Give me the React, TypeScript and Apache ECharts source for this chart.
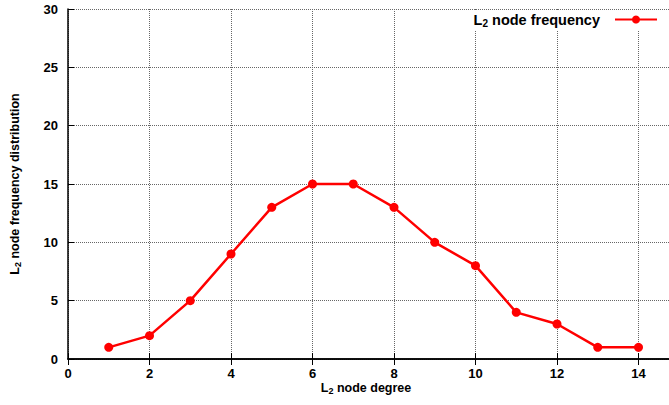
import React, { useEffect, useRef } from "react";
import * as echarts from "echarts";

const degrees = [1, 2, 3, 4, 5, 6, 7, 8, 9, 10, 11, 12, 13, 14];
const frequencies = [1, 2, 5, 9, 13, 15, 15, 13, 10, 8, 4, 3, 1, 1];
const seriesName = "L2 node frequency";

const CHART_W = 730;

export default function App() {
  const ref = useRef<HTMLDivElement>(null);
  useEffect(() => {
    if (!ref.current) return;
    const chart = echarts.init(ref.current, null, { renderer: "svg" });
    const font = "Liberation Sans, Arial, sans-serif";
    const rich = {
      a: { fontFamily: font, fontWeight: "bold", fontSize: 12.5, color: "#000" },
      s: { fontFamily: font, fontWeight: "bold", fontSize: 9, color: "#000", verticalAlign: "bottom", padding: [6, 0, 0, 0] },
    };
    const richL = {
      a: { fontFamily: font, fontWeight: "bold", fontSize: 14.5, color: "#000" },
      s: { fontFamily: font, fontWeight: "bold", fontSize: 10, color: "#000", verticalAlign: "bottom", padding: [7, 0, 0, 0] },
    };
    const axisLabel = { fontFamily: font, fontWeight: "bold", fontSize: 13, color: "#000" };
    const splitLine = { show: true, lineStyle: { type: "dotted", color: "#666", width: 1 } };
    chart.setOption({
      animation: false,
      backgroundColor: "#fff",
      grid: { left: 64, right: CHART_W - 720, top: 9, bottom: 46, containLabel: false },
      legend: {
        data: [seriesName],
        right: CHART_W - 660,
        top: 11,
        align: "right",
        itemWidth: 42,
        itemHeight: 10,
        itemGap: 0,
        backgroundColor: "#fff",
        padding: [1, 2, 3, 10],
        formatter: () => "{a|L}{s|2}{a| node frequency}",
        textStyle: { rich: richL, padding: [0, 10, 0, 0] },
      },
      xAxis: [
        {
          type: "value",
          min: 0,
          max: 16,
          interval: 2,
          name: "{a|L}{s|2}{a| node degree}",
          nameLocation: "start",
          nameGap: -298,
          nameTextStyle: { rich, align: "center", verticalAlign: "top", padding: [21, 0, 0, 0] },
          axisLine: { show: true, onZero: false, lineStyle: { color: "#000", width: 1.5 } },
          axisTick: { show: true, inside: true, length: 6, lineStyle: { color: "#000" } },
          axisLabel: { ...axisLabel, margin: 8, showMaxLabel: false, formatter: (v: number) => (v >= 16 ? "" : String(v)) },
          splitLine,
        },
        {
          type: "value",
          position: "top",
          min: 0,
          max: 16,
          interval: 2,
          axisLine: { show: true, lineStyle: { color: "#000", width: 1.5 } },
          axisTick: { show: true, inside: true, length: 6, lineStyle: { color: "#000" } },
          axisLabel: { show: false },
          splitLine: { show: false },
        },
      ],
      yAxis: {
        type: "value",
        min: 0,
        max: 30,
        interval: 5,
        name: "{a|L}{s|2}{a| node frequency distribution}",
        nameLocation: "middle",
        nameGap: 46,
        nameRotate: 90,
        nameTextStyle: { rich },
        axisLine: { show: true, lineStyle: { color: "#000", width: 1.5 } },
        axisTick: { show: true, inside: true, length: 6, lineStyle: { color: "#000" } },
        axisLabel: { ...axisLabel, margin: 10 },
        splitLine,
      },
      series: [
        {
          name: seriesName,
          type: "line",
          xAxisIndex: 0,
          data: degrees.map((d, i) => [d, frequencies[i]]),
          symbol: "circle",
          symbolSize: 9,
          color: "#ff0000",
          lineStyle: { color: "#ff0000", width: 2.5 },
          itemStyle: { color: "#ff0000" },
        },
      ],
    });
    return () => chart.dispose();
  }, []);
  return (
    <div style={{ width: 669, height: 405, position: "absolute", left: 0, top: 0, overflow: "hidden" }}>
      <div ref={ref} style={{ width: CHART_W, height: 405 }} />
    </div>
  );
}
